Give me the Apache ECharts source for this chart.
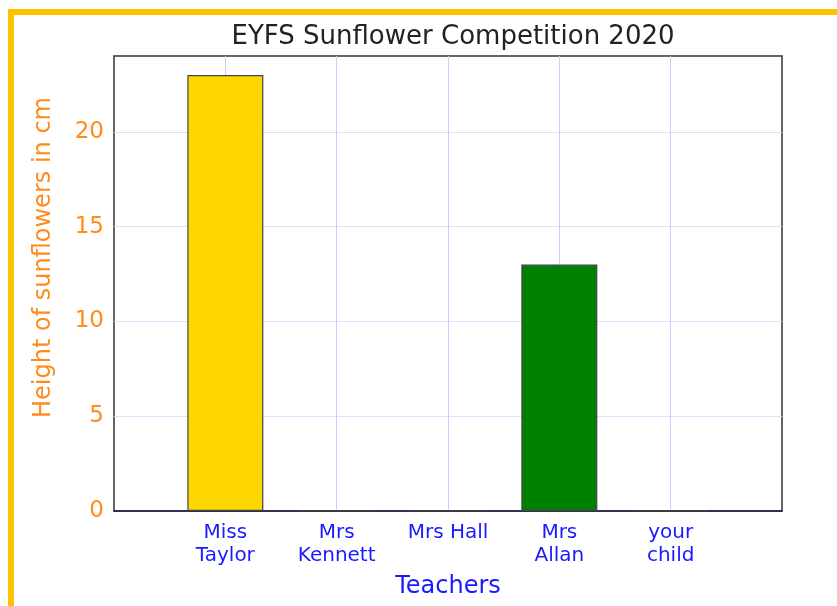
<!DOCTYPE html>
<html>
<head>
<meta charset="utf-8">
<script src="https://cdn.jsdelivr.net/npm/echarts@6/dist/echarts.min.js"></script>
<style>
    html, body { margin: 0; padding: 0; background: #fff; }
    #frame {
        position: absolute; left: 8px; top: 9px; width: 900px; height: 700px;
        border-left: 6px solid #ffc000; border-top: 6px solid #ffc000;
    }
    #chart { position: absolute; left: 0; top: 0; width: 837px; height: 606px; }
</style>
</head>
<body>
<div id="frame"></div>
<div id="chart"></div>
<script>
// 图表数据
const teachers = ['', 'Miss\nTaylor', 'Mrs\nKennett', 'Mrs Hall', 'Mrs\nAllan', 'your\nchild', ''];
const heights = [null, 23, 0, 0, 13, 0, null];
const barColors = ['#ffd700', '#ffd700', '#ffd700', '#ffd700', '#008000', '#ffd700', '#ffd700'];

const font = '"DejaVu Sans", Verdana, sans-serif';

let dom = document.getElementById('chart');
let chart = echarts.init(dom, null, { renderer: 'canvas' });

chart.setOption({
    animation: false,
    title: {
        text: 'EYFS Sunflower Competition 2020',
        left: 448,
        top: 19,
        textAlign: 'center',
        textStyle: { fontFamily: font, fontSize: 26, fontWeight: 'normal', color: '#222' }
    },
    grid: {
        left: 114, top: 56, right: 55, bottom: 95,
        show: true, borderColor: '#333', borderWidth: 1.5, backgroundColor: '#fff'
    },
    xAxis: {
        type: 'category',
        data: teachers,
        boundaryGap: false,
        name: 'Teachers',
        nameLocation: 'middle',
        nameGap: 64,
        nameTextStyle: { fontFamily: font, fontSize: 24, color: '#1a1aff' },
        axisLine: { lineStyle: { color: '#222244', width: 1.5 } },
        axisTick: { show: false },
        axisLabel: {
            interval: 0, margin: 10, fontFamily: font, fontSize: 20, lineHeight: 23, color: '#1a1aff'
        },
        // 只画中间的竖线，边上交给边框
        splitLine: {
            show: true,
            interval: (i) => teachers[i] !== '',
            lineStyle: { color: '#ccccff', width: 1 }
        }
    },
    yAxis: {
        type: 'value',
        min: 0, max: 24, interval: 5,
        name: 'Height of sunflowers in cm',
        nameLocation: 'middle',
        nameGap: 58,
        nameTextStyle: { fontFamily: font, fontSize: 24, color: '#ff8c1a', padding: [0, 0, 0, 52] },
        axisLine: { show: false },
        axisTick: { show: false },
        axisLabel: { margin: 10, showMaxLabel: false, fontFamily: font, fontSize: 23, color: '#ff8c1a' },
        splitLine: {
            show: true, showMinLine: false, showMaxLine: false,
            lineStyle: { color: '#dedeff', width: 1 }
        }
    },
    series: [{
        type: 'bar',
        barWidth: 76,
        data: heights.map((v, i) => ({
            value: v,
            itemStyle: { color: barColors[i] }
        })),
        itemStyle: { borderColor: '#444', borderWidth: 1.2 }
    }]
});
</script>
</body>
</html>
